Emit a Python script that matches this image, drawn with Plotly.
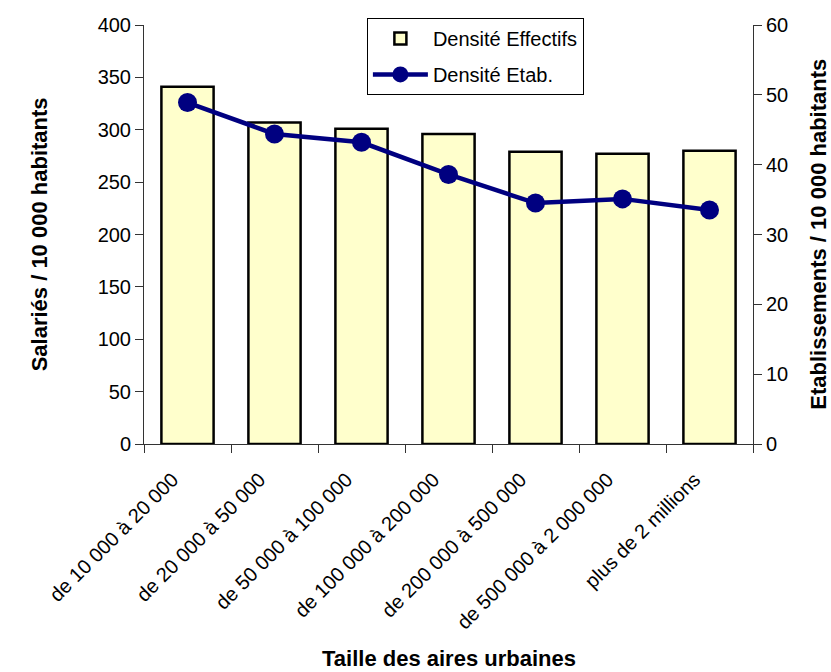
import plotly.graph_objects as go

categories = [
    "de 10 000 à 20 000",
    "de 20 000 à 50 000",
    "de 50 000 à 100 000",
    "de 100 000 à 200 000",
    "de 200 000 à 500 000",
    "de 500 000 à 2 000 000",
    "plus de 2 millions",
]
densite_effectifs = [341, 307, 301, 296, 279, 277, 280]
densite_etab = [48.9, 44.4, 43.2, 38.6, 34.5, 35.1, 33.5]

FONT = "Liberation Sans, Arial, sans-serif"
TICK_SIZE = 20
TITLE_SIZE = 22
AXIS_COLOR = "#333"

n = len(categories)
boundaries = [i - 0.5 for i in range(n + 1)]

fig = go.Figure()
fig.add_trace(go.Bar(
    x=categories, y=densite_effectifs, name="Densité Effectifs",
    marker=dict(color="#FFFFCC", line=dict(color="black", width=2.5)),
    yaxis="y", legendgroup="a",
))
fig.add_trace(go.Scatter(
    x=categories, y=densite_etab, name="Densité Etab.",
    mode="lines+markers",
    line=dict(color="#000080", width=4.5),
    marker=dict(color="#000080", size=19),
    yaxis="y2", legendgroup="b",
))

axis_common = dict(
    showgrid=False, zeroline=False, showline=True, automargin=False,
    linecolor=AXIS_COLOR, linewidth=1, ticks="outside", ticklen=8,
    tickcolor=AXIS_COLOR, tickfont=dict(family=FONT, size=TICK_SIZE, color="black"),
)
# companion axes that draw the inner half of each crossing tick
inner_ticks = dict(
    showgrid=False, zeroline=False, showline=False, automargin=False,
    showticklabels=False, ticks="inside", ticklen=8, tickcolor=AXIS_COLOR,
)

fig.update_layout(
    width=831, height=672,
    margin=dict(l=144, r=78, t=25, b=228),
    paper_bgcolor="white", plot_bgcolor="white",
    font=dict(family=FONT, size=TICK_SIZE, color="black"),
    bargap=0.4,
    showlegend=True,
    legend=dict(
        x=0.366, y=1.017, xanchor="left", yanchor="top",
        bordercolor="black", borderwidth=1, bgcolor="white",
        font=dict(family=FONT, size=TICK_SIZE),
        tracegroupgap=7, itemwidth=55,
    ),
    xaxis=dict(
        **axis_common, tickangle=-45, tickson="boundaries",
        range=[-0.5, n - 0.5],
        ticklabelstandoff=15, ticklabelshift=-15,
    ),
    xaxis2=dict(
        **inner_ticks, overlaying="x", anchor="y", type="linear",
        range=[-0.5, n - 0.5], tickmode="array", tickvals=boundaries,
    ),
    yaxis=dict(**axis_common, range=[0, 400], dtick=50),
    yaxis2=dict(
        **axis_common, range=[0, 60], dtick=10,
        overlaying="y", side="right",
    ),
    yaxis3=dict(
        **inner_ticks, overlaying="y", anchor="x", side="left",
        range=[0, 400], dtick=50,
    ),
    yaxis4=dict(
        **inner_ticks, overlaying="y", anchor="x", side="right",
        range=[0, 60], dtick=10,
    ),
    annotations=[
        dict(text="<b>Taille des aires urbaines</b>", xref="paper", yref="paper",
             x=0.5, y=-0.513, xanchor="center", yanchor="middle", showarrow=False,
             font=dict(family=FONT, size=TITLE_SIZE)),
        dict(text="<b>Salariés / 10 000 habitants</b>", xref="paper", yref="paper",
             x=-0.171, y=0.5, xanchor="center", yanchor="middle", showarrow=False,
             textangle=-90, font=dict(family=FONT, size=TITLE_SIZE)),
        dict(text="<b>Etablissements / 10 000 habitants</b>", xref="paper", yref="paper",
             x=1.107, y=0.5, xanchor="center", yanchor="middle", showarrow=False,
             textangle=-90, font=dict(family=FONT, size=TITLE_SIZE)),
    ],
)

fig.write_html("out.html")
